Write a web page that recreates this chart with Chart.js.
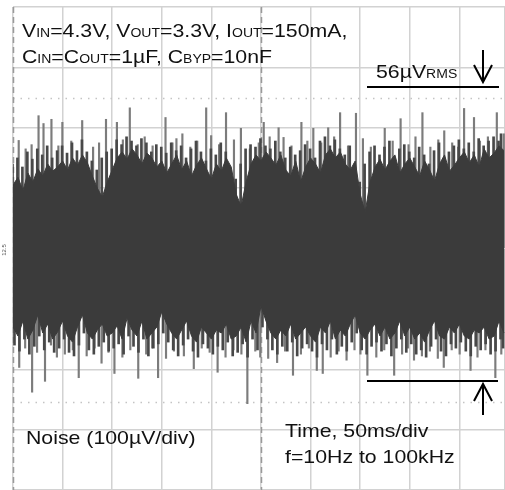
<!DOCTYPE html>
<html>
<head>
<meta charset="utf-8">
<script src="https://cdn.jsdelivr.net/npm/chart.js@4.4.1/dist/chart.umd.min.js"></script>
<style>
  body { margin: 0; background: #fff; }
  canvas { display: block; }
</style>
</head>
<body>
<canvas id="noiseChart" width="505" height="490"></canvas>
<script>
// time in ms (50ms/div), noise in uV (100uV/div)
const sampleTimes = [
  0, 5, 10, 15, 20, 25, 30, 35, 40, 45, 50, 55, 60, 65, 70, 75, 80, 85, 90, 95,
  100, 105, 110, 115, 120, 125, 130, 135, 140, 145, 150, 155, 160, 165, 170, 175, 180, 185, 190, 195,
  200, 205, 210, 215, 220, 225, 230, 235, 240, 245, 250, 255, 260, 265, 270, 275, 280, 285, 290, 295,
  300, 305, 310, 315, 320, 325, 330, 335, 340, 345, 350, 355, 360, 365, 370, 375, 380, 385, 390, 395,
  400, 405, 410, 415, 420, 425, 430, 435, 440, 445, 450, 455, 460, 465, 470, 475, 480, 485, 490, 495
];

// dense part of the trace, top and bottom edge
const coreHigh = [
  105, 118, 96, 125, 110, 132, 120, 140, 128, 135,
  145, 130, 150, 138, 155, 142, 120, 100, 85, 110,
  130, 150, 160, 148, 165, 155, 140, 158, 150, 135,
  145, 125, 140, 155, 130, 145, 120, 138, 150, 132,
  115, 140, 128, 150, 135, 90, 70, 110, 140, 155,
  145, 160, 150, 138, 155, 130, 120, 145, 110, 135,
  150, 140, 125, 155, 165, 150, 160, 140, 130, 145,
  90, 60, 110, 135, 148, 130, 145, 155, 125, 140,
  150, 135, 120, 145, 130, 112, 140, 155, 128, 138,
  150, 160, 142, 155, 135, 165, 150, 158, 170, 162
];
const coreLow = [
  -130, -145, -120, -150, -135, -110, -140, -125, -150, -138,
  -120, -145, -155, -130, -110, -140, -150, -135, -125, -145,
  -140, -128, -150, -115, -135, -145, -120, -150, -140, -130,
  -105, -125, -140, -150, -135, -120, -145, -155, -130, -140,
  -150, -135, -140, -125, -150, -145, -130, -155, -120, -140,
  -95, -120, -140, -150, -135, -145, -125, -150, -140, -130,
  -145, -155, -130, -140, -120, -150, -135, -145, -125, -110,
  -140, -150, -135, -125, -145, -130, -150, -140, -120, -145,
  -130, -150, -140, -155, -135, -120, -145, -150, -130, -140,
  -125, -145, -150, -135, -140, -130, -150, -145, -120, -140
];

// ragged streaks just outside the dense band (read between the samples above)
const fringeTimes = [
  2.5, 7.5, 12.5, 17.5, 22.5, 27.5, 32.5, 37.5, 42.5, 47.5, 52.5, 57.5, 62.5, 67.5, 72.5, 77.5, 82.5, 87.5, 92.5, 97.5,
  102.5, 107.5, 112.5, 117.5, 122.5, 127.5, 132.5, 137.5, 142.5, 147.5, 152.5, 157.5, 162.5, 167.5, 172.5, 177.5, 182.5, 187.5, 192.5, 197.5,
  202.5, 207.5, 212.5, 217.5, 222.5, 227.5, 232.5, 237.5, 242.5, 247.5, 252.5, 257.5, 262.5, 267.5, 272.5, 277.5, 282.5, 287.5, 292.5, 297.5,
  302.5, 307.5, 312.5, 317.5, 322.5, 327.5, 332.5, 337.5, 342.5, 347.5, 352.5, 357.5, 362.5, 367.5, 372.5, 377.5, 382.5, 387.5, 392.5, 397.5,
  402.5, 407.5, 412.5, 417.5, 422.5, 427.5, 432.5, 437.5, 442.5, 447.5, 452.5, 457.5, 462.5, 467.5, 472.5, 477.5, 482.5, 487.5, 492.5, 495
];
const fringeHigh = [
  140, 150, 135, 160, 148, 165, 155, 170, 150, 162,
  170, 158, 175, 162, 180, 160, 145, 130, 150, 160,
  165, 180, 172, 185, 178, 170, 182, 175, 160, 172,
  168, 158, 175, 162, 170, 150, 165, 178, 160, 145,
  165, 155, 175, 160, 130, 115, 140, 165, 172, 168,
  182, 170, 165, 178, 160, 150, 168, 155, 162, 172,
  165, 150, 178, 185, 170, 180, 165, 155, 170, 140,
  110, 140, 160, 170, 155, 168, 178, 150, 165, 172,
  160, 150, 168, 155, 140, 162, 175, 150, 160, 170,
  180, 165, 175, 160, 182, 170, 178, 185, 178, 190
];
const fringeLow = [
  -160, -170, -150, -175, -162, -145, -168, -155, -172, -165,
  -150, -172, -178, -160, -140, -168, -175, -162, -155, -170,
  -165, -158, -175, -145, -162, -172, -150, -178, -165, -158,
  -140, -155, -168, -178, -160, -150, -170, -180, -158, -165,
  -175, -162, -168, -155, -178, -172, -158, -180, -150, -168,
  -130, -150, -168, -175, -162, -170, -155, -178, -165, -158,
  -170, -180, -158, -168, -150, -175, -162, -170, -155, -140,
  -168, -175, -162, -155, -170, -158, -178, -165, -150, -172,
  -158, -175, -168, -180, -162, -150, -170, -178, -158, -165,
  -155, -170, -178, -162, -168, -158, -175, -170, -150, -165
];

// isolated peaks above and below the band
const upSpikeTimes = [
  5, 12, 18, 25, 30, 38, 45, 49, 58, 69, 80, 86, 93, 104, 110, 117, 125, 132, 140, 153,
  160, 164, 170, 178, 185, 194, 199, 207, 214, 222, 229, 238, 247, 252, 258, 267, 272, 280, 290, 296,
  302, 310, 317, 323, 329, 337, 345, 352, 360, 374, 382, 390, 398, 405, 412, 420, 428, 434, 442, 448,
  454, 464, 470, 478, 487, 494
];
const upSpikeValues = [
  179, 165, 172, 220, 207, 214, 170, 209, 178, 212, 168, 175, 214, 209, 180, 233, 172, 185, 170, 217,
  175, 182, 190, 168, 178, 233, 187, 172, 225, 180, 199, 165, 175, 209, 185, 200, 184, 170, 209, 178,
  199, 175, 200, 185, 225, 170, 224, 182, 168, 199, 178, 215, 172, 185, 225, 168, 180, 195, 175, 168,
  232, 217, 178, 185, 225, 190
];
const downSpikeTimes = [
  4, 10, 17, 22, 30, 36, 42, 50, 58, 64, 72, 80, 87, 94, 100, 108, 116, 124, 132, 138,
  144, 152, 160, 170, 180, 188, 196, 204, 212, 220, 228, 234, 242, 247, 255, 264, 272, 280, 288, 296,
  304, 310, 318, 326, 334, 342, 348, 355, 364, 372, 382, 390, 396, 402, 410, 418, 426, 432, 440, 448,
  459, 466, 474, 484, 490
];
const downSpikeValues = [
  -197, -165, -238, -172, -220, -160, -180, -175, -168, -214, -178, -165, -190, -172, -207, -180, -168, -215, -175, -165,
  -214, -182, -170, -178, -199, -165, -172, -205, -180, -168, -175, -257, -170, -180, -182, -189, -170, -210, -175, -165,
  -202, -207, -180, -170, -185, -168, -175, -210, -180, -168, -210, -175, -165, -185, -178, -170, -182, -197, -168, -175,
  -202, -180, -168, -214, -175
];

function spikeBars(times, values) {
  return times.map((t, i) => ({ x: t, y: [0, values[i]] }));
}

const FONT = '"Liberation Sans", Arial, sans-serif';
const STRETCH = 1.12;

// text with subscripts sitting on the same baseline
function drawRich(ctx, x, y, parts) {
  ctx.save();
  ctx.translate(x, y);
  ctx.scale(STRETCH, 1);
  ctx.fillStyle = '#111';
  ctx.textBaseline = 'alphabetic';
  ctx.textAlign = 'left';
  let cx = 0;
  parts.forEach(([txt, size]) => {
    ctx.font = size + 'px ' + FONT;
    ctx.fillText(txt, cx, 0);
    cx += ctx.measureText(txt).width;
  });
  ctx.restore();
}

function arrow(ctx, x, y1, y2) {
  // y2 is the tip
  const dir = y2 > y1 ? 1 : -1;
  ctx.beginPath();
  ctx.moveTo(x, y1);
  ctx.lineTo(x, y2);
  ctx.moveTo(x - 9, y2 - dir * 17);
  ctx.lineTo(x, y2);
  ctx.lineTo(x + 9, y2 - dir * 17);
  ctx.stroke();
}

const scopePlugin = {
  id: 'scopeExtras',
  beforeDatasetsDraw(chart) {
    const ctx = chart.ctx;
    const area = chart.chartArea;
    const xs = chart.scales.x;
    const ys = chart.scales.y;
    ctx.save();
    // dotted rows
    ctx.strokeStyle = '#c4c4c4';
    ctx.lineWidth = 1.5;
    ctx.setLineDash([1.5, 6]);
    [250, -255].forEach(v => {
      const py = Math.round(ys.getPixelForValue(v)) + 0.5;
      ctx.beginPath();
      ctx.moveTo(area.left, py);
      ctx.lineTo(area.right, py);
      ctx.stroke();
    });
    // left border and centre line, dashed
    ctx.strokeStyle = '#9a9a9a';
    ctx.lineWidth = 1.5;
    ctx.setLineDash([6, 4]);
    [0, 250].forEach(t => {
      const px = Math.round(xs.getPixelForValue(t)) + 0.5;
      ctx.beginPath();
      ctx.moveTo(px, area.top);
      ctx.lineTo(px, area.bottom);
      ctx.stroke();
    });
    ctx.restore();
  },
  afterDraw(chart) {
    const ctx = chart.ctx;
    ctx.save();
    drawRich(ctx, 22, 37, [['V', 19], ['IN', 12.5], ['=4.3V, V', 19], ['OUT', 12.5],
      ['=3.3V, I', 19], ['OUT', 12.5], ['=150mA,', 19]]);
    drawRich(ctx, 22, 63, [['C', 19], ['IN', 12.5], ['=C', 19], ['OUT', 12.5],
      ['=1\u00b5F, C', 19], ['BYP', 12.5], ['=10nF', 19]]);
    drawRich(ctx, 376, 78, [['56\u00b5V', 19], ['RMS', 12.5]]);
    drawRich(ctx, 26, 444, [['Noise (100\u00b5V/div)', 19]]);
    drawRich(ctx, 285, 437, [['Time, 50ms/div', 19]]);
    drawRich(ctx, 285, 463, [['f=10Hz to 100kHz', 19]]);

    ctx.strokeStyle = '#000';
    ctx.lineWidth = 2;
    ctx.beginPath();
    ctx.moveTo(367, 87);
    ctx.lineTo(499, 87);
    ctx.moveTo(367, 381);
    ctx.lineTo(498, 381);
    ctx.stroke();
    arrow(ctx, 483, 50, 82);
    arrow(ctx, 483, 415, 384);

    // small channel marker on the left edge
    ctx.translate(6, 250);
    ctx.rotate(-Math.PI / 2);
    ctx.font = '6px ' + FONT;
    ctx.fillStyle = '#555';
    ctx.textAlign = 'center';
    ctx.fillText('12.5', 0, 0);
    ctx.restore();
  }
};

const ctx = document.getElementById('noiseChart').getContext('2d');
const noiseChart = new Chart(ctx, {
  type: 'bar',
  data: {
    datasets: [
      {
        type: 'line',
        data: sampleTimes.map((t, i) => ({ x: t, y: coreHigh[i] })),
        borderColor: '#3b3b3b',
        backgroundColor: '#3b3b3b',
        borderWidth: 1,
        pointRadius: 0,
        fill: '+1',
        order: 1
      },
      {
        type: 'line',
        data: sampleTimes.map((t, i) => ({ x: t, y: coreLow[i] })),
        borderColor: '#3b3b3b',
        borderWidth: 1,
        pointRadius: 0,
        fill: false,
        order: 1
      },
      {
        data: spikeBars(fringeTimes, fringeHigh),
        backgroundColor: '#484848',
        barThickness: 2,
        order: 2
      },
      {
        data: spikeBars(fringeTimes, fringeLow),
        backgroundColor: '#484848',
        barThickness: 2,
        order: 2
      },
      {
        data: spikeBars(upSpikeTimes, upSpikeValues),
        backgroundColor: '#7c7c7c',
        barThickness: 1.5,
        order: 3
      },
      {
        data: spikeBars(downSpikeTimes, downSpikeValues),
        backgroundColor: '#7c7c7c',
        barThickness: 1.5,
        order: 3
      }
    ]
  },
  options: {
    responsive: false,
    animation: false,
    devicePixelRatio: 1,
    layout: { padding: { left: 13, top: 7, right: 0, bottom: 0 } },
    plugins: {
      legend: { display: false },
      tooltip: { enabled: false }
    },
    scales: {
      x: {
        type: 'linear',
        min: 0,
        max: 496,
        offset: false,
        ticks: { display: false, stepSize: 50 },
        grid: { color: '#d2d2d2', lineWidth: 1.5, drawTicks: false, offset: false },
        border: { display: false }
      },
      y: {
        min: -400,
        max: 400,
        ticks: { display: false, stepSize: 100 },
        grid: { color: '#d2d2d2', lineWidth: 1.5, drawTicks: false },
        border: { display: false }
      }
    }
  },
  plugins: [scopePlugin]
});
</script>
</body>
</html>
